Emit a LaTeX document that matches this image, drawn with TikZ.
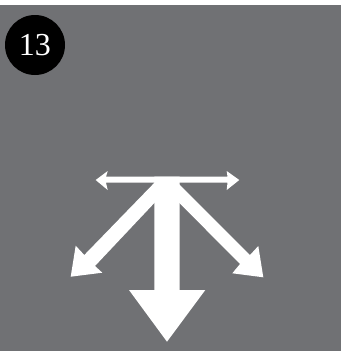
\documentclass[tikz,border=0pt]{standalone}
\usepackage{fontspec}
\setmainfont{Liberation Serif}
\definecolor{panel}{HTML}{707174}
\tikzset{
  whitearrow/.style={fill=white,draw=none},
  badge/.style={circle,fill=black,draw=none,minimum size=60pt,inner sep=0pt,text=white,font=\fontsize{32}{32}\selectfont}
}
\begin{document}
\begin{tikzpicture}[x=1pt,y=-1pt]
\useasboundingbox (0,0) rectangle (346,351);
\fill[white] (0,0) rectangle (346,351);
\fill[panel] (0,5) rectangle (341,351);
\node[badge] (num) at (35,45) {13};
% horizontal double arrow
\fill[whitearrow] (95.7,180) -- (107.7,171) -- (106,176.7) -- (227.5,176.7) -- (226.7,171) -- (239.3,180) -- (226.7,190) -- (227.5,182.7) -- (106,182.7) -- (107.7,190) -- cycle;
% left diagonal arrow
\fill[whitearrow] (70.7,276.7) -- (75.7,245.7) -- (84.3,255) -- (160,177) -- (160,197) -- (95,266) -- (102.3,272.7) -- cycle;
% right diagonal arrow
\fill[whitearrow] (263.3,277.3) -- (258.3,246) -- (250,255) -- (172,177) -- (172,195.5) -- (240,264) -- (232.3,273.3) -- cycle;
% central arrow
\fill[whitearrow] (154.3,176.7) -- (179.7,176.7) -- (179.7,290) -- (205.3,290) -- (167,341.7) -- (129,290) -- (154.3,290) -- cycle;
\end{tikzpicture}
\end{document}
